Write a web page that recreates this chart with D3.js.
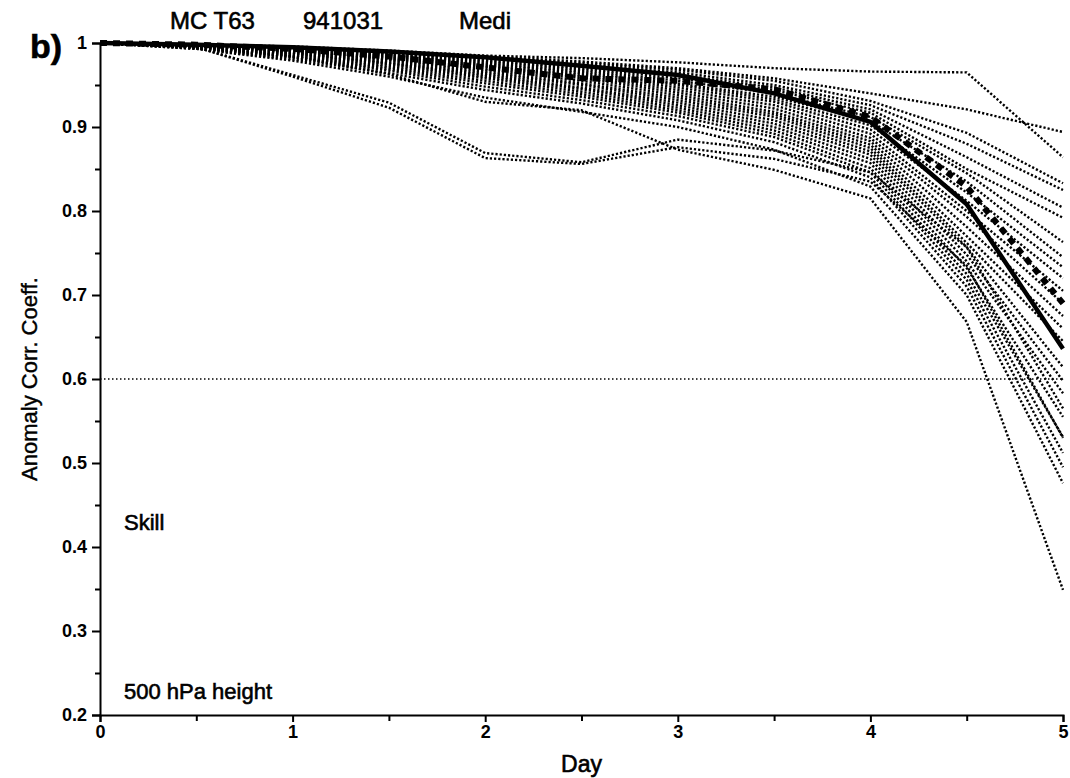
<!DOCTYPE html>
<html>
<head>
<meta charset="utf-8">
<script src="https://cdn.jsdelivr.net/npm/d3@7"></script>
<style>
  html, body { margin: 0; padding: 0; background: #fff; }
  svg { display: block; }
  text { font-family: "Liberation Sans", Arial, Helvetica, sans-serif; fill: #000; }
</style>
</head>
<body>
<svg id="chart" width="1070" height="778"></svg>
<script>
// ---- data ----
const days = [0, 0.5, 1, 1.5, 2, 2.5, 3, 3.5, 4, 4.5, 5];
const xTicks = [0, 1, 2, 3, 4, 5];
const xMinorTicks = [0.5, 1.5, 2.5, 3.5, 4.5];
const yTicks = [0.2, 0.3, 0.4, 0.5, 0.6, 0.7, 0.8, 0.9, 1];
const yTickLabels = ["0.2", "0.3", "0.4", "0.5", "0.6", "0.7", "0.8", "0.9", "1"];
const yMinorTicks = [0.25, 0.35, 0.45, 0.55, 0.65, 0.75, 0.85, 0.95];
const skillThreshold = 0.6;

// control forecast (thick solid)
const control = [1.000, 0.998, 0.995, 0.990, 0.983, 0.973, 0.962, 0.940, 0.906, 0.808, 0.636];
// ensemble mean (thick dashed)
const ensembleMean = [1.000, 0.998, 0.993, 0.984, 0.971, 0.958, 0.955, 0.945, 0.912, 0.829, 0.690];
// ensemble members (dotted)
const members = [
  [1.000, 0.998, 0.996, 0.991, 0.985, 0.982, 0.977, 0.970, 0.966, 0.965, 0.864],
  [1.000, 0.998, 0.995, 0.990, 0.984, 0.978, 0.970, 0.958, 0.940, 0.921, 0.894],
  [1.000, 0.998, 0.995, 0.990, 0.983, 0.976, 0.968, 0.955, 0.931, 0.893, 0.833],
  [1.000, 0.998, 0.994, 0.989, 0.982, 0.974, 0.965, 0.950, 0.926, 0.880, 0.825],
  [1.000, 0.997, 0.994, 0.988, 0.981, 0.972, 0.962, 0.947, 0.921, 0.864, 0.804],
  [1.000, 0.997, 0.993, 0.987, 0.979, 0.970, 0.958, 0.944, 0.917, 0.850, 0.792],
  [1.000, 0.997, 0.993, 0.986, 0.978, 0.968, 0.955, 0.940, 0.912, 0.845, 0.763],
  [1.000, 0.997, 0.992, 0.985, 0.976, 0.966, 0.952, 0.936, 0.907, 0.835, 0.745],
  [1.000, 0.997, 0.992, 0.984, 0.975, 0.964, 0.950, 0.933, 0.902, 0.822, 0.733],
  [1.000, 0.996, 0.991, 0.983, 0.973, 0.962, 0.947, 0.930, 0.897, 0.812, 0.720],
  [1.000, 0.996, 0.991, 0.982, 0.972, 0.960, 0.944, 0.926, 0.892, 0.800, 0.705],
  [1.000, 0.996, 0.990, 0.981, 0.970, 0.958, 0.941, 0.922, 0.887, 0.793, 0.690],
  [1.000, 0.996, 0.990, 0.980, 0.968, 0.955, 0.938, 0.918, 0.883, 0.781, 0.675],
  [1.000, 0.996, 0.989, 0.979, 0.966, 0.952, 0.935, 0.915, 0.879, 0.770, 0.660],
  [1.000, 0.995, 0.988, 0.977, 0.964, 0.950, 0.932, 0.912, 0.875, 0.762, 0.645],
  [1.000, 0.995, 0.988, 0.976, 0.962, 0.947, 0.929, 0.908, 0.871, 0.757, 0.614],
  [1.000, 0.995, 0.987, 0.975, 0.960, 0.945, 0.926, 0.904, 0.867, 0.748, 0.598],
  [1.000, 0.995, 0.986, 0.973, 0.958, 0.942, 0.923, 0.900, 0.862, 0.740, 0.583],
  [1.000, 0.994, 0.985, 0.971, 0.955, 0.939, 0.920, 0.896, 0.857, 0.732, 0.555],
  [1.000, 0.994, 0.984, 0.969, 0.952, 0.936, 0.917, 0.892, 0.851, 0.725, 0.531],
  [1.000, 0.994, 0.983, 0.967, 0.948, 0.932, 0.913, 0.888, 0.846, 0.718, 0.512],
  [1.000, 0.993, 0.981, 0.964, 0.944, 0.928, 0.908, 0.882, 0.840, 0.710, 0.495],
  [1.000, 0.993, 0.979, 0.960, 0.935, 0.918, 0.900, 0.873, 0.829, 0.700, 0.476],
  [1.000, 0.995, 0.984, 0.963, 0.930, 0.920, 0.873, 0.849, 0.815, 0.668, 0.349],
  [1.000, 0.995, 0.962, 0.929, 0.869, 0.858, 0.885, 0.872, 0.846, 0.757, 0.565],
  [1.000, 0.995, 0.960, 0.923, 0.863, 0.856, 0.876, 0.862, 0.835, 0.735, 0.530]
];

// ---- layout ----
const svg = d3.select("#chart");
const x = d3.scaleLinear().domain([0, 5]).range([100, 1063]);
const y = d3.scaleLinear().domain([0.2, 1]).range([715, 43]);

const line = d3.line().x((d, i) => x(days[i])).y(d => y(d));

// skill threshold line
svg.append("line")
  .attr("x1", x(0)).attr("x2", x(5))
  .attr("y1", y(skillThreshold)).attr("y2", y(skillThreshold))
  .attr("stroke", "#000").attr("stroke-width", 1.5)
  .attr("stroke-dasharray", "1.5,2.5");

// members
svg.append("g").selectAll("path").data(members).join("path")
  .attr("d", line)
  .attr("fill", "none")
  .attr("stroke", "#000")
  .attr("stroke-width", 2.4)
  .attr("stroke-dasharray", "2.2,2");

// ensemble mean
svg.append("path").datum(ensembleMean)
  .attr("d", line)
  .attr("fill", "none").attr("stroke", "#000")
  .attr("stroke-width", 6)
  .attr("stroke-dasharray", "7,6");

// control
svg.append("path").datum(control)
  .attr("d", line)
  .attr("fill", "none").attr("stroke", "#000")
  .attr("stroke-width", 4.5)
  .attr("stroke-linejoin", "round");

// ---- axes ----
const xAxis = d3.axisBottom(x).tickValues(xTicks).tickFormat(d3.format("d")).tickSize(7).tickPadding(3);
const gx = svg.append("g").attr("transform", `translate(0,${y(0.2)})`).call(xAxis);
gx.select(".domain").attr("stroke-width", 2);
gx.selectAll(".tick line").attr("stroke-width", 2);
gx.selectAll(".tick text").attr("font-size", 18).attr("font-weight", "bold")
  .attr("font-family", "Liberation Sans, Arial, sans-serif");
svg.append("g").attr("transform", `translate(0,${y(0.2)})`)
  .call(d3.axisBottom(x).tickValues(xMinorTicks).tickFormat("").tickSize(6))
  .call(g => g.select(".domain").remove())
  .selectAll(".tick line").attr("stroke-width", 2);

const yAxis = d3.axisLeft(y).tickValues(yTicks).tickFormat((d, i) => yTickLabels[i]).tickSize(8).tickPadding(5);
const gy = svg.append("g").attr("transform", `translate(${x(0)},0)`).call(yAxis);
gy.select(".domain").attr("stroke-width", 2);
gy.selectAll(".tick line").attr("stroke-width", 2);
gy.selectAll(".tick text").attr("font-size", 18).attr("font-weight", "bold")
  .attr("font-family", "Liberation Sans, Arial, sans-serif");
svg.append("g").attr("transform", `translate(${x(0)},0)`)
  .call(d3.axisLeft(y).tickValues(yMinorTicks).tickFormat("").tickSize(5))
  .call(g => g.select(".domain").remove())
  .selectAll(".tick line").attr("stroke-width", 2);

// ---- texts ----
function label(txt, px, py, size, weight, anchor) {
  return svg.append("text")
    .attr("x", px).attr("y", py)
    .attr("font-size", size)
    .attr("font-weight", weight || "normal")
    .attr("text-anchor", anchor || "start")
    .attr("stroke", "#000").attr("stroke-width", 0.6)
    .text(txt);
}
label("b)", 30, 58, 34, "bold");
label("MC T63", 170, 29, 24);
label("941031", 303, 29, 24);
label("Medi", 459, 29, 24);
label("Skill", 124, 530, 22);
label("500 hPa height", 124, 699, 22);
label("Day", x(2.5), 772, 23, "normal", "middle");
svg.append("text")
  .attr("transform", `translate(37,${y(0.6)}) rotate(-90)`)
  .attr("text-anchor", "middle")
  .attr("font-size", 22)
  .attr("stroke", "#000").attr("stroke-width", 0.4)
  .text("Anomaly Corr. Coeff.");
</script>
</body>
</html>
